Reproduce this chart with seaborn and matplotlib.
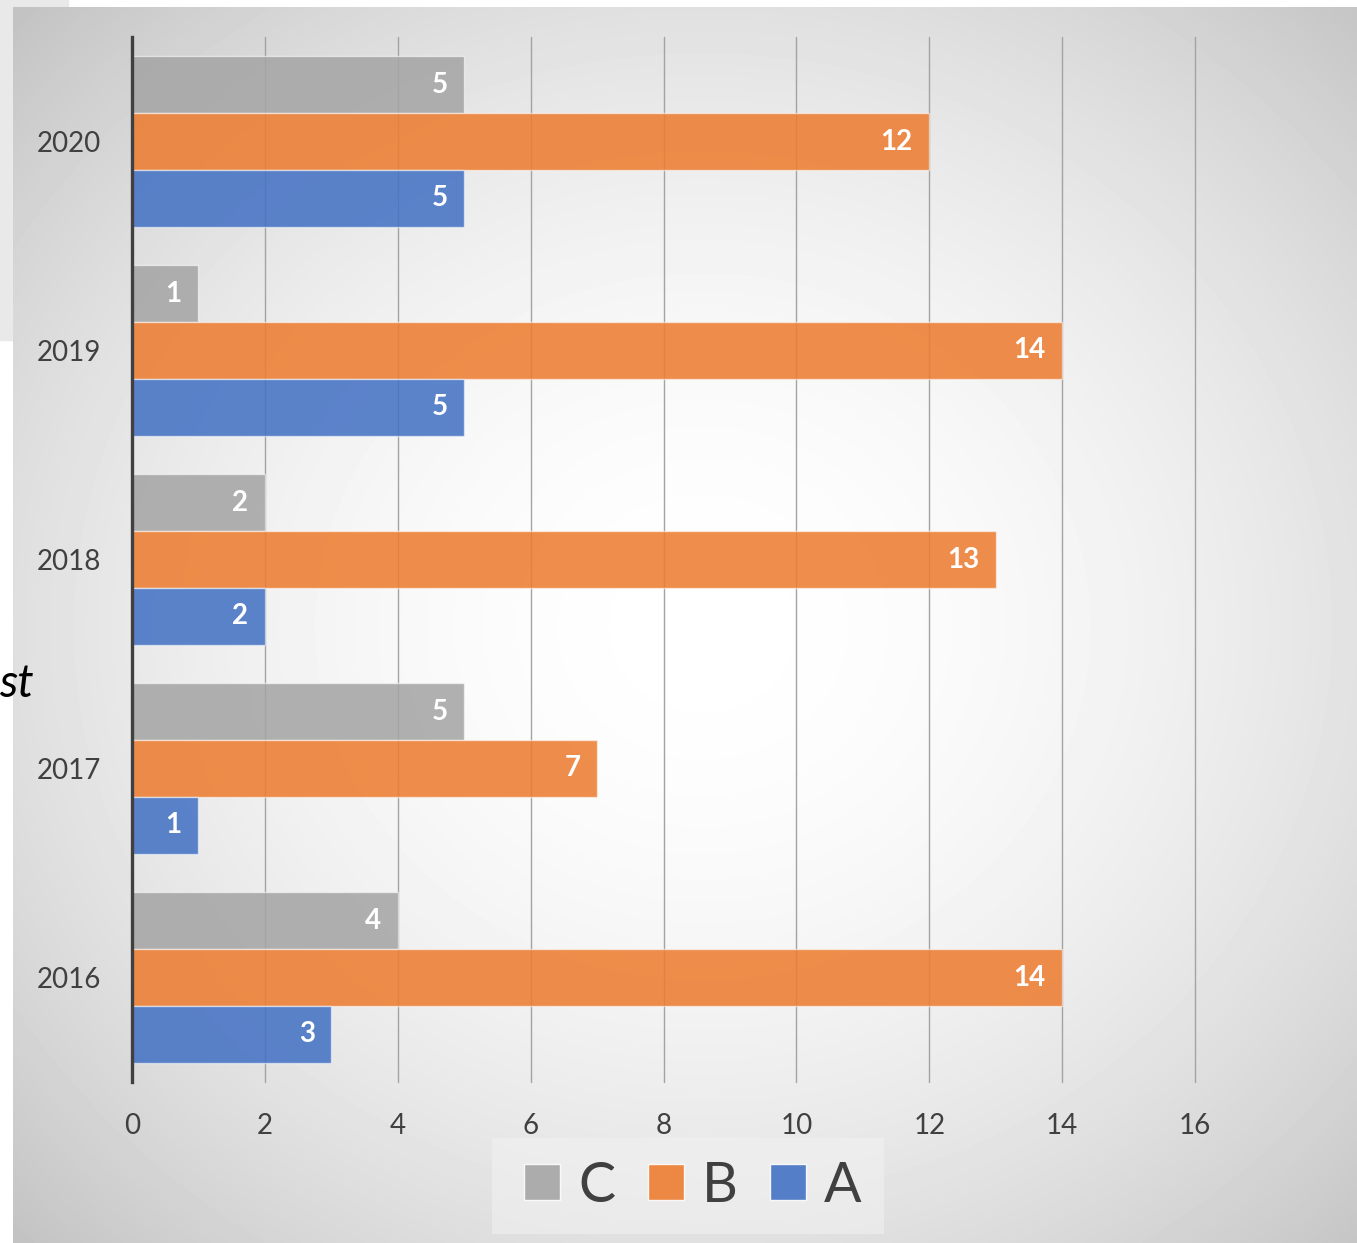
import numpy as np
import pandas as pd
import matplotlib
matplotlib.use("Agg")
import matplotlib.pyplot as plt
from matplotlib.lines import Line2D
from matplotlib.patches import Rectangle
import matplotlib.colors as mcolors
import seaborn as sns

# ---- data ----
years = ["2020", "2019", "2018", "2017", "2016"]
series = ["C", "B", "A"]
values_C = [5, 1, 2, 5, 4]
values_B = [12, 14, 13, 7, 14]
values_A = [5, 5, 2, 1, 3]
x_ticks = [0, 2, 4, 6, 8, 10, 12, 14, 16]
colors = {"C": "#A5A5A5", "B": "#ED7D31", "A": "#4472C4"}

df = pd.DataFrame({
    "year": years * 3,
    "series": ["C"] * 5 + ["B"] * 5 + ["A"] * 5,
    "value": values_C + values_B + values_A,
})

sns.set_theme(style="white")
plt.rcParams["font.family"] = ["Lato", "DejaVu Sans"]

W, H = 1357, 1243
fig = plt.figure(figsize=(W / 100, H / 100), dpi=100)
fig.patch.set_facecolor("white")

# light rectangle behind the panel (top-left)
fig.patches.append(Rectangle((0, 1 - 340 / H), 68 / W, 340 / H,
                             transform=fig.transFigure, color="#E9E9E9", zorder=-5))

# gradient panel
px0, py0 = 13, 7
bg = fig.add_axes([px0 / W, 0, 1 - px0 / W, 1 - py0 / H], zorder=0)
gw, gh = W - px0, H - py0
xx, yy = np.meshgrid(np.linspace(0, gw, 400), np.linspace(0, gh, 400))
cx, cy = 690, 620
r = np.sqrt(((xx - cx) / 680) ** 2 + ((yy - cy) / 620) ** 2)
v = (255 - 3.4 * r - 27.6 * r ** 2) / 255
v = np.clip(v, 0.74, 1)
bg.imshow(v, cmap="gray", vmin=0, vmax=1, aspect="auto", extent=(0, 1, 1, 0),
          interpolation="bilinear")
bg.set_axis_off()

# main axes
ax = fig.add_axes([132 / W, 1 - 1082 / H, (1195 - 132) / W, (1082 - 37) / H], zorder=1)
ax.set_facecolor("none")
sns.barplot(data=df, y="year", x="value", hue="series", order=years,
            hue_order=series, palette=colors, orient="h", width=0.818,
            ax=ax, legend=False, saturation=1)

for p in ax.patches:
    fc = mcolors.to_rgb(p.get_facecolor())
    p.set_facecolor((*fc, 0.87))
    p.set_edgecolor((1, 1, 1, 0.55))
    p.set_linewidth(1.0)
    p.set_zorder(2)

for cont in ax.containers:
    labels = ax.bar_label(cont, padding=-12, color="white", fontsize=20,
                          fontweight="bold", label_type="edge")
    for t in labels:
        t.set_ha("right")
        t.set_va("center")

ax.set_xlim(0, 16)
ax.set_ylim(4.5, -0.5)
ax.set_xticks(x_ticks)
ax.set_xticklabels([str(t) for t in x_ticks])
ax.grid(axis="x", color="#A3A3A3", linewidth=1.0)
ax.grid(axis="y", visible=False)
for gl in ax.get_xgridlines():
    gl.set_clip_on(False)
ax.set_axisbelow(True)
for s in ["top", "right", "bottom"]:
    ax.spines[s].set_visible(False)
ax.spines["left"].set_color("#404040")
ax.spines["left"].set_linewidth(2.4)
ax.tick_params(axis="x", length=0, pad=22, labelsize=20, labelcolor="#404040")
ax.tick_params(axis="y", length=0, pad=22, labelsize=20, labelcolor="#404040")
ax.set_xlabel("")
ax.set_ylabel("")

# cut-off italic text at the left
fig.text(34 / W, 1 - 684 / H, "st", ha="right", va="center", fontsize=33,
         style="italic", color="black", zorder=3)

# legend
handles = [Line2D([], [], linestyle="none", marker="s", markersize=26,
                  markerfacecolor=colors[s], markeredgecolor=(1, 1, 1, 0.6),
                  markeredgewidth=1.0, alpha=0.9) for s in series]
leg = fig.legend(handles, series, loc="center",
                 bbox_to_anchor=(688 / W, 1 - 1186 / H), ncol=3,
                 fontsize=40, frameon=True, fancybox=False,
                 handlelength=1.0, handletextpad=0.15, columnspacing=0.4,
                 borderpad=0.4, labelcolor="#404040")
leg.get_frame().set_facecolor("#F2F2F2")
leg.get_frame().set_alpha(0.55)
leg.get_frame().set_edgecolor("none")
leg.set_zorder(3)

fig.savefig("out.png", dpi=100)
